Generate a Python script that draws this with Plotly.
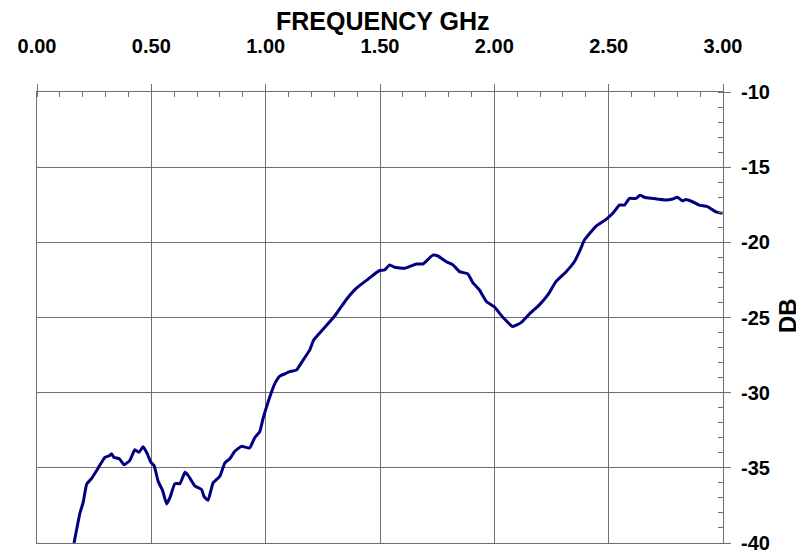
import plotly.graph_objects as go

freq_ghz = [0.162, 0.188, 0.202, 0.217, 0.239, 0.268, 0.297, 0.316, 0.326, 0.336, 0.36, 0.381,
            0.406, 0.428, 0.446, 0.464, 0.482, 0.497, 0.512, 0.53, 0.549, 0.567, 0.581, 0.603,
            0.625, 0.647, 0.661, 0.69, 0.72, 0.73, 0.748, 0.77, 0.8, 0.821, 0.843, 0.865,
            0.894, 0.93, 0.952, 0.974, 0.989, 1.011, 1.04, 1.062, 1.083, 1.105, 1.134, 1.163,
            1.193, 1.21, 1.244, 1.302, 1.353, 1.397, 1.447, 1.496, 1.52, 1.542, 1.564, 1.608,
            1.659, 1.688, 1.731, 1.753, 1.79, 1.819, 1.848, 1.884, 1.906, 1.935, 1.965, 2.0,
            2.037, 2.08, 2.117, 2.154, 2.197, 2.234, 2.27, 2.314, 2.35, 2.372, 2.394, 2.423,
            2.445, 2.489, 2.518, 2.547, 2.569, 2.591, 2.62, 2.637, 2.656, 2.692, 2.751, 2.78,
            2.80, 2.823, 2.838, 2.867, 2.896, 2.932, 2.969, 2.998]
level_db = [-40.0, -38.0, -37.3, -36.1, -35.7, -35.0, -34.3, -34.2, -34.06, -34.3, -34.4, -34.8,
            -34.5, -33.8, -33.97, -33.6, -34.06, -34.6, -34.85, -35.9, -36.5, -37.4, -37.0, -36.05,
            -36.05, -35.3, -35.5, -36.2, -36.45, -36.9, -37.16, -36.0, -35.56, -34.68, -34.4, -33.9,
            -33.57, -33.68, -33.0, -32.6, -31.7, -30.6, -29.4, -28.9, -28.75, -28.6, -28.5, -27.85,
            -27.15, -26.5, -25.9, -24.9, -23.8, -23.05, -22.46, -21.89, -21.84, -21.5, -21.66, -21.73,
            -21.44, -21.44, -20.85, -20.91, -21.29, -21.5, -21.95, -22.1, -22.68, -23.17, -23.94, -24.3,
            -24.98, -25.6, -25.34, -24.76, -24.16, -23.5, -22.6, -21.95, -21.29, -20.62, -19.85, -19.3,
            -18.92, -18.47, -18.07, -17.52, -17.52, -17.08, -17.08, -16.86, -17.0, -17.08, -17.19, -17.12,
            -17.0, -17.24, -17.15, -17.3, -17.52, -17.63, -17.97, -18.07]

x_tick_vals = [0, 0.5, 1.0, 1.5, 2.0, 2.5, 3.0]
x_tick_text = ["0.00", "0.50", "1.00", "1.50", "2.00", "2.50", "3.00"]
y_tick_vals = [-10, -15, -20, -25, -30, -35, -40]
y_tick_text = ["-10", "-15", "-20", "-25", "-30", "-35", "-40"]
x_title = "FREQUENCY GHz"
y_title = "DB"

FONT = "Liberation Sans, Arial, sans-serif"
GRID = "#707070"

# page body has an 8px default margin; figure is sized/offset to compensate
W, H = 796, 544
L, R, T, B = 29, 81, 84, 9
PW, PH = W - L - R, H - T - B

fig = go.Figure(go.Scatter(x=freq_ghz, y=level_db, mode="lines",
                           line=dict(color="#000080", width=3, shape="spline", smoothing=0.4),
                           hoverinfo="skip"))

fig.update_layout(
    width=W, height=H,
    margin=dict(l=L, r=R, t=T, b=B),
    plot_bgcolor="white", paper_bgcolor="white",
    showlegend=False,
    xaxis=dict(
        side="top", range=[0, 3], tickvals=x_tick_vals, ticktext=x_tick_text,
        showgrid=True, gridcolor=GRID, gridwidth=1,
        showline=True, linecolor=GRID, linewidth=1, mirror=True,
        ticks="outside", ticklen=7, tickcolor=GRID, tickwidth=1,
        minor=dict(dtick=0.1, ticks="inside", ticklen=5, tickcolor=GRID, showgrid=False),
        tickfont=dict(family=FONT, size=20, color="black", weight="bold"),
        ticklabelstandoff=23, ticklabeloverflow="allow",
        automargin=False, zeroline=False,
    ),
    yaxis=dict(
        side="right", range=[-40, -10], tickvals=y_tick_vals, ticktext=y_tick_text,
        showgrid=True, gridcolor=GRID, gridwidth=1,
        showline=True, linecolor=GRID, linewidth=1, mirror=True,
        ticks="outside", ticklen=7, tickcolor=GRID, tickwidth=1,
        minor=dict(dtick=1, ticks="inside", ticklen=5, tickcolor=GRID, showgrid=False),
        tickfont=dict(family=FONT, size=20, color="black", weight="bold"),
        ticklabelstandoff=6, ticklabeloverflow="allow",
        automargin=False, zeroline=False,
    ),
    annotations=[
        dict(text=x_title, xref="paper", yref="paper", x=(374 - L) / PW, y=1 + (T - 13) / PH,
             xanchor="center", yanchor="middle", showarrow=False,
             font=dict(family=FONT, size=25, color="black", weight="bold")),
        dict(text=y_title, xref="paper", yref="paper", x=1 + (779 - (W - R)) / PW, y=(H - B - 308) / PH,
             xanchor="center", yanchor="middle", showarrow=False, textangle=-90,
             font=dict(family=FONT, size=24, color="black", weight="bold")),
    ],
)

fig.write_html("out.html")
